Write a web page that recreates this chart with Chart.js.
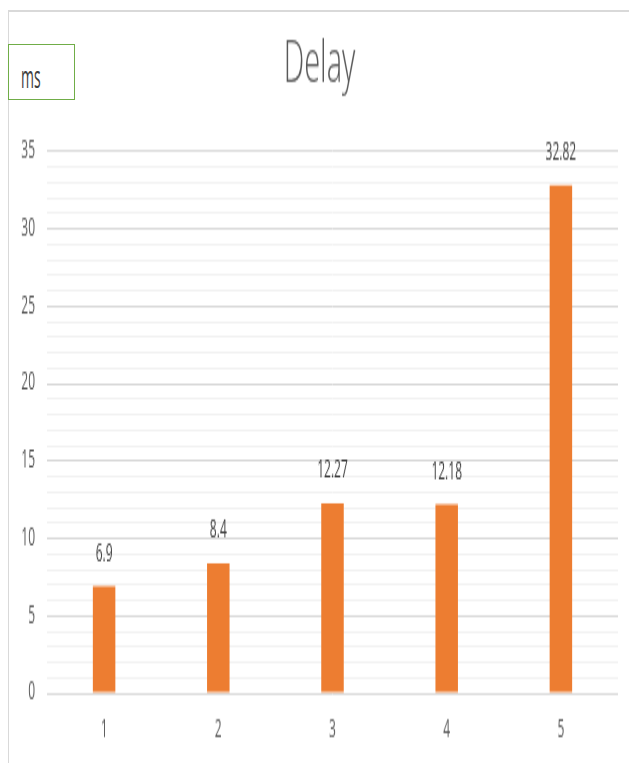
<!DOCTYPE html>
<html>
<head>
<meta charset="utf-8">
<script src="https://cdn.jsdelivr.net/npm/chart.js@4"></script>
<style>
  body { margin: 0; background: #fff; }
  #page { position: relative; width: 629px; height: 763px; overflow: hidden; }
  #frame { position: absolute; left: 8px; top: 10px; width: 621px; height: 753px;
           border-left: 1px solid #d9d9d9; border-top: 2px solid #d9d9d9; }
  #unitBox { position: absolute; left: 8px; top: 44px; width: 67px; height: 56px;
             box-sizing: border-box; border: 1px solid #70AD47; background: #fff; }
  #unitBox span { position: absolute; left: 12px; top: 16.7px; font: 14px/14px 'Open Sans', sans-serif;
                  color: #404040; transform: scaleY(2.2); transform-origin: top left; display: block; }
  #myChart { position: absolute; left: 0; top: 0; }
</style>
</head>
<body>
<div id="page">
  <div id="frame"></div>
  <canvas id="myChart" width="629" height="382" style="width:629px;height:763px"></canvas>
  <div id="unitBox"><span>ms</span></div>
</div>
<script>
// values
var categories = ['1', '2', '3', '4', '5'];
var delays = [6.9, 8.4, 12.27, 12.18, 32.82];
var yMin = 0;
var yMax = 35;
var yMajorStep = 5;

Chart.defaults.font.family = "'Open Sans', sans-serif";
Chart.defaults.font.size = 12;
Chart.defaults.color = '#595959';

// value labels above each bar
var barLabels = {
    id: 'barLabels',
    afterDatasetsDraw: function(chart) {
        var ctx = chart.ctx;
        var meta = chart.getDatasetMeta(0);
        ctx.save();
        ctx.font = "12px 'Open Sans', sans-serif";
        ctx.fillStyle = '#404040';
        ctx.textAlign = 'center';
        ctx.textBaseline = 'middle';
        meta.data.forEach(function(bar, i) {
            ctx.fillText(String(delays[i]), bar.x, bar.y - 16);
        });
        ctx.restore();
    }
};

var graphData = {
    type: 'bar',
    data: {
        labels: categories,
        datasets: [{
            label: 'Delay',
            data: delays,
            backgroundColor: '#ED7D31',
            borderWidth: 0,
            barPercentage: 0.197,
            categoryPercentage: 1
        }]
    },
    options: {
        responsive: false,
        animation: false,
        layout: {
            padding: { left: 21, right: 11, top: 0, bottom: 10 }
        },
        plugins: {
            legend: { display: false },
            tooltip: { enabled: false },
            title: {
                display: true,
                text: 'Delay',
                color: '#595959',
                font: { size: 29, weight: 300, lineHeight: 1.2 },
                padding: { top: 15, bottom: 26 }
            }
        },
        scales: {
            x: {
                grid: { display: false, drawTicks: false, tickLength: 0 },
                border: { display: false },
                ticks: { padding: 11, color: '#595959' },
                afterFit: function(scale) { scale.height = 25; }
            },
            y: {
                min: yMin,
                max: yMax,
                border: { display: false },
                grid: {
                    drawTicks: false,
                    tickLength: 0,
                    color: function(c) {
                        return c.tick && c.tick.value % yMajorStep === 0 ? '#d9d9d9' : '#f2f2f2';
                    }
                },
                ticks: {
                    stepSize: 1,
                    autoSkip: false,
                    padding: 12,
                    color: '#595959',
                    callback: function(value) {
                        return value % yMajorStep === 0 ? value : '';
                    }
                },
                afterFit: function(scale) { scale.width = 26; }
            }
        }
    },
    plugins: [barLabels]
};

var ctx = document.getElementById('myChart').getContext('2d');
var myChart = new Chart(ctx, graphData);
</script>
</body>
</html>
